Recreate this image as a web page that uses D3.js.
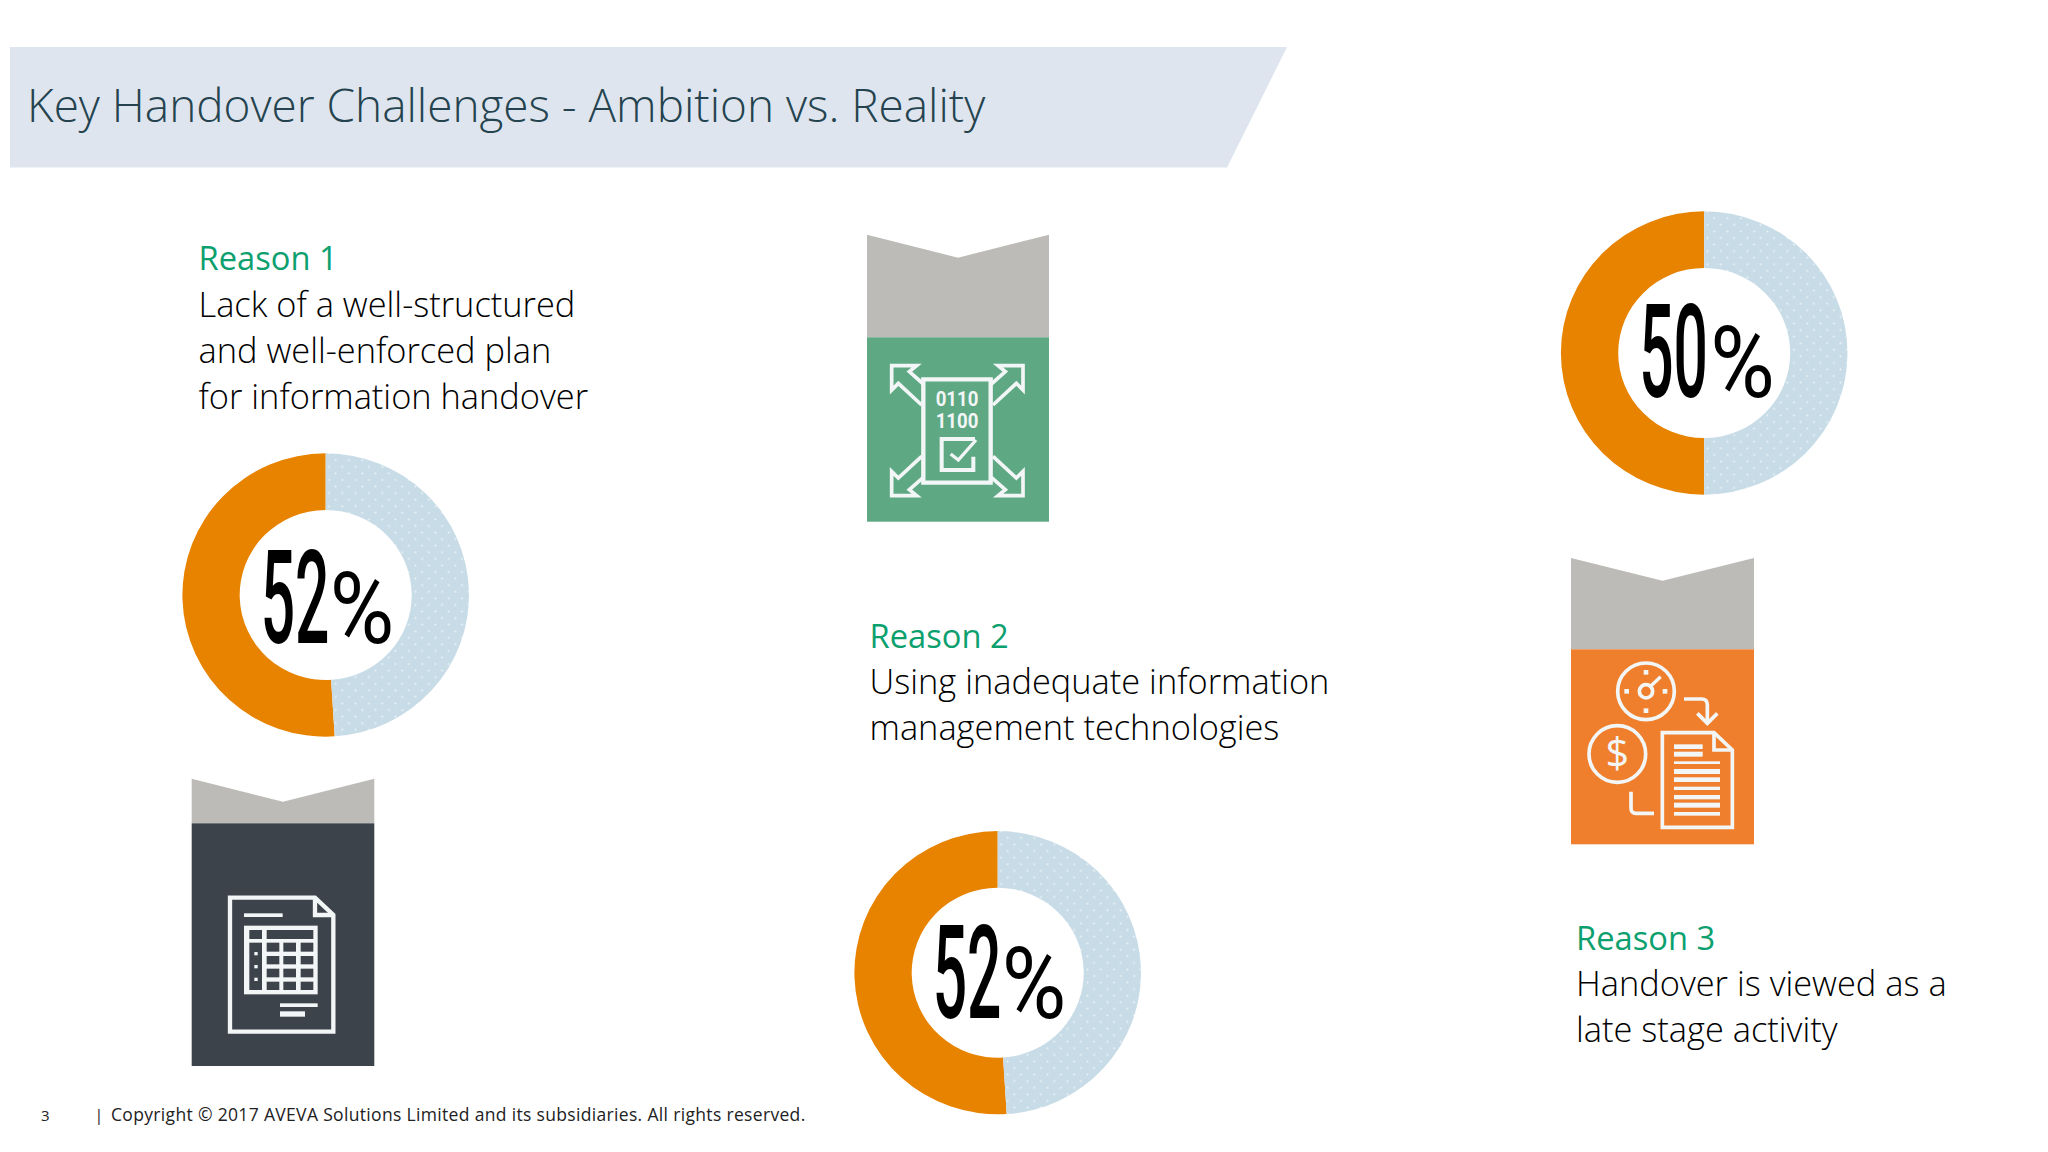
<!DOCTYPE html>
<html><head><meta charset="utf-8">
<script src="https://cdn.jsdelivr.net/npm/d3@7"></script>
<style>html,body{margin:0;padding:0;background:#fff}svg{display:block}text{font-family:"Open Sans",sans-serif}</style>
</head><body><div id="c"></div>
<script>
// values
const donutLabels = ["52", "52", "50"];
const drawnShares = [51, 51, 50];
const donutCentres = [[325.7, 595], [997.7, 972.7], [1704.2, 353]];
const labelBaselines = [48, 45, 44];
const percentOffsets = [9, 9, 11];
const reasonTitles = ["Reason 1", "Reason 2", "Reason 3"];
const reasonLines = [
  ["Lack of a well-structured", "and well-enforced plan", "for information handover"],
  ["Using inadequate information", "management technologies"],
  ["Handover is viewed as a", "late stage activity"]
];
const reasonAnchors = [[198.5, 270], [869.5, 647.5], [1576, 949.5]];
const titleText = "Key Handover Challenges - Ambition vs. Reality";
const footerNumber = "3";
const footerText = "Copyright © 2017 AVEVA Solutions Limited and its subsidiaries. All rights reserved.";

const W = 2048, H = 1152, ORANGE = "#e88300", PALE = "#c8dce7", GREEN = "#0da06f";
const svg = d3.select("#c").append("svg").attr("width", W).attr("height", H).attr("viewBox", `0 0 ${W} ${H}`);
svg.append("rect").attr("width", W).attr("height", H).attr("fill", "#fff");

const pat = svg.append("defs").append("pattern").attr("id", "dots").attr("patternUnits", "userSpaceOnUse")
  .attr("width", 13.3).attr("height", 13.3);
pat.append("rect").attr("width", 13.3).attr("height", 13.3).attr("fill", PALE);
[[3.3, 3.3], [10, 10]].forEach(p => pat.append("circle").attr("cx", p[0]).attr("cy", p[1]).attr("r", 0.95).attr("fill", "#eef5f8"));

// banner
svg.append("path").attr("d", d3.line()([[10, 47], [1287, 47], [1227, 167.5], [10, 167.5]]) + "Z").attr("fill", "#dee5ee");
svg.append("text").attr("x", 27).attr("y", 122).attr("font-size", 45.9).attr("font-weight", 300).attr("fill", "#24434f").text(titleText);

// donuts
const pie = d3.pie().sort(null).value(d => d).startAngle(0).endAngle(-2 * Math.PI);
const arc = d3.arc().innerRadius(86).outerRadius(143.3);
donutCentres.forEach((c, i) => {
  const g = svg.append("g").attr("transform", `translate(${c[0]},${c[1]})`);
  const s = drawnShares[i];
  g.append("g").attr("transform", "scale(1,0.9885)").selectAll("path").data(pie([s, 100 - s])).join("path")
    .attr("d", arc).attr("fill", (d, j) => j === 0 ? ORANGE : "url(#dots)");
  const base = labelBaselines[i];
  g.append("text").attr("transform", `translate(-65,${base}) scale(0.465,1)`)
    .style("font-family", "Roboto").attr("font-size", 130).attr("font-weight", 500).attr("fill", "#000").text(donutLabels[i]);
  g.append("text").attr("transform", `translate(${percentOffsets[i] - 5},${base}) scale(0.88,1)`)
    .style("font-family", "Roboto").attr("font-size", 100).attr("font-weight", 400).attr("fill", "#000").text("%");
});

// reason texts
reasonTitles.forEach((t, i) => {
  const a = reasonAnchors[i];
  const g = svg.append("g");
  g.append("text").attr("x", a[0]).attr("y", a[1]).attr("font-size", 32.7).attr("fill", GREEN).text(t);
  reasonLines[i].forEach((l, j) => g.append("text").attr("x", a[0]).attr("y", a[1] + 46.8 + 46 * j)
    .attr("font-size", 34.4).attr("font-weight", 300).attr("fill", "#000").text(l));
});

// ribbons
function ribbon(x0, x1, top, notch, split, bottom, colour) {
  svg.append("path").attr("d", d3.line()([[x0, top], [(x0 + x1) / 2, notch], [x1, top], [x1, split], [x0, split]]) + "Z").attr("fill", "#bdbbb8");
  svg.append("rect").attr("x", x0).attr("y", split).attr("width", x1 - x0).attr("height", bottom - split).attr("fill", colour);
}
const DARK = "#3c434b", MID = "#5ea984", ORG = "#ef7f2d", ICON = "#f3f6f6";
ribbon(191.7, 374.3, 778.7, 801.7, 823.3, 1066, DARK);
ribbon(867, 1049, 234.7, 257.7, 337.3, 521.7, MID);
ribbon(1571, 1754, 558, 580.7, 649.3, 844.3, ORG);

// icons: drawn in a 3x local unit
const icon = (x, y) => svg.append("g").attr("transform", `translate(${x},${y}) scale(${1 / 3})`);
const st = (g, d, sw) => g.append("path").attr("d", d).attr("fill", "none").attr("stroke", ICON).attr("stroke-width", sw).attr("stroke-linejoin", "miter");
const box = (g, x0, x1, y0, y1, col = ICON) => g.append("rect").attr("x", x0).attr("y", y0).attr("width", x1 - x0).attr("height", y1 - y0).attr("fill", col);

// table document
{
  const g = icon(170, 770);
  st(g, "M180,383H435L490,435V785H180Z", 13);
  st(g, "M435,383V435H490", 13);
  box(g, 222, 338, 430, 441);
  box(g, 222, 443, 467, 673);
  box(g, 238, 276, 480, 507, DARK);
  box(g, 290, 430, 480, 507, DARK);
  box(g, 238, 276, 518, 660, DARK);
  [[290, 328], [340, 378], [392, 430]].forEach(cx =>
    [[518, 545], [558, 583], [596, 622], [635, 660]].forEach(cy => box(g, cx[0], cx[1], cy[0], cy[1], DARK)));
  [551, 590, 628].forEach(y => box(g, 253, 263, y - 5, y + 5));
  box(g, 330, 443, 700, 711);
  box(g, 330, 405, 724, 740);
}
// data document
{
  const g = icon(860, 220);
  st(g, "M190,478H392V788H190Z", 13);
  const head = "M190,492L148,455L170,437H95V510L115,490L185,555";
  [[1, 1], [-1, 1], [1, -1], [-1, -1]].forEach(s => {
    const a = g.append("g").attr("transform", `translate(292,632) scale(${s[0]},${s[1]}) translate(-292,-632)`);
    st(a, head, 11);
  });
  [["0110", 558], ["1100", 624]].forEach(r => g.append("text").attr("transform", `translate(291,${r[1]}) scale(0.93,1)`)
    .attr("text-anchor", "middle").style("font-family", "Roboto").attr("font-size", 60).attr("font-weight", 700).attr("fill", ICON).text(r[0]));
  st(g, "M345,657H245V750H340V710", 12);
  st(g, "M272,702L295,720L348,660", 10);
}
// cost and time document
{
  const g = icon(1570, 550);
  g.append("circle").attr("cx", 228).attr("cy", 424).attr("r", 85).attr("fill", "none").attr("stroke", ICON).attr("stroke-width", 11);
  g.append("circle").attr("cx", 228).attr("cy", 424).attr("r", 20).attr("fill", "none").attr("stroke", ICON).attr("stroke-width", 11);
  st(g, "M240,410L272,380", 10);
  [[228, 367], [228, 482], [170, 424], [285, 424]].forEach(p => box(g, p[0] - 7, p[0] + 7, p[1] - 7, p[1] + 7));
  g.append("circle").attr("cx", 142).attr("cy", 612).attr("r", 85).attr("fill", "none").attr("stroke", ICON).attr("stroke-width", 11);
  g.append("text").attr("x", 142).attr("y", 655).attr("text-anchor", "middle").attr("font-size", 124).attr("font-weight", 400).attr("fill", ICON).text("$");
  st(g, "M342,447H395Q412,447 412,464V518", 11);
  st(g, "M382,490L412,520L442,490", 11);
  st(g, "M183,725V775Q183,790 198,790H252", 11);
  st(g, "M277,548H432L487,600V832H277Z", 11);
  st(g, "M432,548V600H487", 11);
  box(g, 312, 398, 583, 597); box(g, 312, 398, 605, 620);
  [[634, 642], [657, 672], [682, 696], [710, 720], [735, 748], [758, 773], [786, 797]].forEach(y => box(g, 312, 450, y[0], y[1]));
}

// footer
svg.append("text").attr("x", 41).attr("y", 1120.5).attr("font-size", 15).attr("fill", "#222").text(footerNumber);
svg.append("text").attr("x", 94.5).attr("y", 1120.5).attr("font-size", 16).attr("fill", "#222").text("|");
svg.append("text").attr("x", 111).attr("y", 1120.5).attr("font-size", 17.5).attr("letter-spacing", 0.33).attr("fill", "#222").text(footerText);
</script></body></html>
